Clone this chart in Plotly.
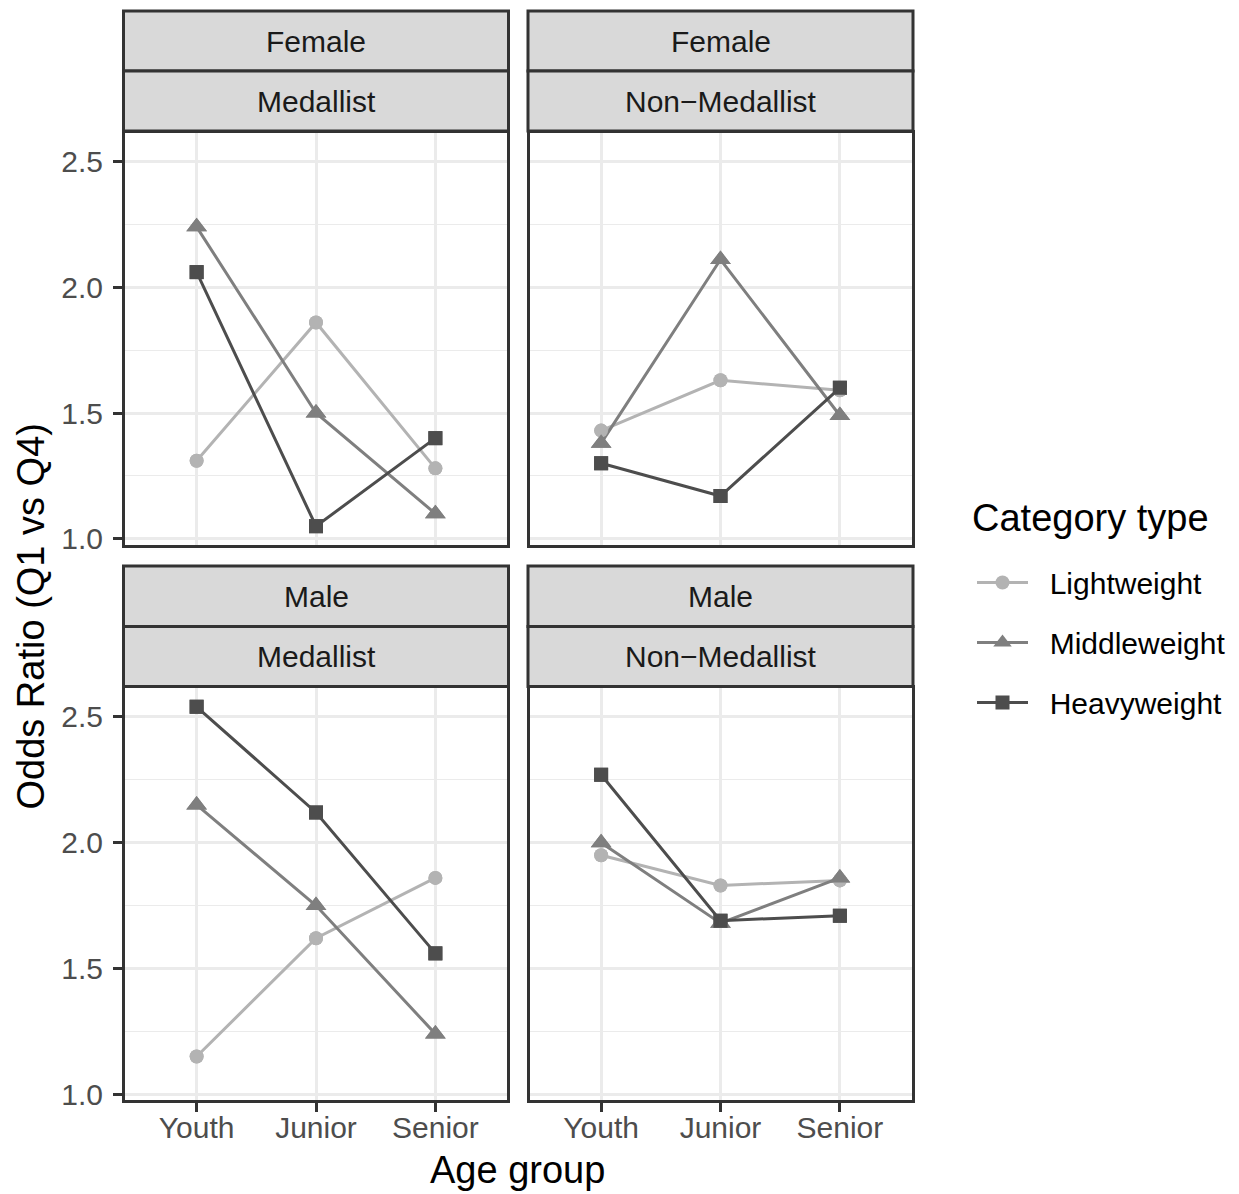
import plotly.graph_objects as go

# ---------------- data ----------------
age_groups = ["Youth", "Junior", "Senior"]
categories = ["Lightweight", "Middleweight", "Heavyweight"]
cat_colors = ["#B3B3B3", "#7F7F7F", "#4D4D4D"]
cat_symbols = ["circle", "triangle-up", "square"]
cat_sizes = [14, 18, 14]

sex_labels = ["Female", "Female", "Male", "Male"]
status_labels = ["Medallist", "Non\u2212Medallist", "Medallist", "Non\u2212Medallist"]

female_medallist_light = [1.31, 1.86, 1.28]
female_medallist_middle = [2.24, 1.50, 1.10]
female_medallist_heavy = [2.06, 1.05, 1.40]

female_nonmedallist_light = [1.43, 1.63, 1.59]
female_nonmedallist_middle = [1.38, 2.11, 1.49]
female_nonmedallist_heavy = [1.30, 1.17, 1.60]

male_medallist_light = [1.15, 1.62, 1.86]
male_medallist_middle = [2.15, 1.75, 1.24]
male_medallist_heavy = [2.54, 2.12, 1.56]

male_nonmedallist_light = [1.95, 1.83, 1.85]
male_nonmedallist_middle = [2.00, 1.68, 1.86]
male_nonmedallist_heavy = [2.27, 1.69, 1.71]

panels = [
    [female_medallist_light, female_medallist_middle, female_medallist_heavy],
    [female_nonmedallist_light, female_nonmedallist_middle, female_nonmedallist_heavy],
    [male_medallist_light, male_medallist_middle, male_medallist_heavy],
    [male_nonmedallist_light, male_nonmedallist_middle, male_nonmedallist_heavy],
]

y_ticks = [1.0, 1.5, 2.0, 2.5]

# ---------------- layout geometry (pixels of the target picture) ----------------
REF_W, REF_H = 1239, 1194
SY = 1.009  # vertical compensation for the capture
W, H = REF_W, round(REF_H * SY)


def fx(p):
    return p / REF_W


def fy(p):
    return 1 - p / REF_H


# panel border centre lines
col_edges = [(123.5, 508.5), (528.0, 913.0)]
row_edges = [(131.0, 546.0), (686.0, 1101.0)]
strip_rows = [[(11.0, 71.0), (71.0, 131.0)], [(565.5, 626.0), (626.0, 686.0)]]
LW = 3

all_vals = [v for p in panels for s in p for v in s]
lo, hi = min(all_vals), max(all_vals)
pad = 0.05 * (hi - lo)
y_range = [lo - pad, hi + pad]

GRID = "#EBEBEB"
BORDER = "#333333"
SMALL = 30
LARGE = 38
FONT = "Liberation Sans, Arial, Helvetica, sans-serif"
NB = "\u00a0\u00a0"

fig = go.Figure()

for i, pdata in enumerate(panels):
    n = i + 1
    xa = "x" if n == 1 else f"x{n}"
    ya = "y" if n == 1 else f"y{n}"
    # lines (with markers) first, then markers on top
    for k in range(3):
        fig.add_trace(go.Scatter(
            x=age_groups, y=pdata[k], xaxis=xa, yaxis=ya,
            mode="lines+markers", name=NB + categories[k],
            legendgroup=categories[k], showlegend=(i == 0),
            line=dict(color=cat_colors[k], width=3),
            marker=dict(symbol=cat_symbols[k], size=cat_sizes[k],
                        color=cat_colors[k], line=dict(width=0)),
        ))
    for k in range(3):
        fig.add_trace(go.Scatter(
            x=age_groups, y=pdata[k], xaxis=xa, yaxis=ya,
            mode="markers", name=categories[k],
            legendgroup=categories[k], showlegend=False,
            marker=dict(symbol=cat_symbols[k], size=cat_sizes[k],
                        color=cat_colors[k], line=dict(width=0)),
            hoverinfo="skip",
        ))

layout = dict(
    width=W, height=H,
    margin=dict(l=0, r=0, t=0, b=0),
    paper_bgcolor="white", plot_bgcolor="white",
    font=dict(family=FONT, size=SMALL, color="black"),
    showlegend=True,
    legend=dict(
        x=fx(972), xanchor="left", y=fy(556), yanchor="top",
        font=dict(size=SMALL, color="black"),
        tracegroupgap=18, itemwidth=51,
        bgcolor="rgba(0,0,0,0)", borderwidth=0,
    ),
)

shapes = []
annotations = []

for i in range(4):
    n = i + 1
    r, c = divmod(i, 2)
    x0, x1 = col_edges[c]
    y0, y1 = row_edges[r]
    xkey = "xaxis" if n == 1 else f"xaxis{n}"
    ykey = "yaxis" if n == 1 else f"yaxis{n}"
    yref = "y" if n == 1 else f"y{n}"
    xref = "x" if n == 1 else f"x{n}"
    layout[xkey] = dict(
        domain=[fx(x0 + LW / 2), fx(x1 - LW / 2)],
        anchor=yref,
        type="category",
        categoryorder="array", categoryarray=age_groups,
        range=[-0.6, 2.6],
        showgrid=True, gridcolor=GRID, gridwidth=2.5,
        zeroline=False,
        showline=True, linecolor=BORDER, linewidth=LW, mirror=True,
        ticks="outside" if r == 1 else "",
        ticklen=9, tickwidth=LW, tickcolor=BORDER,
        ticklabelstandoff=-10,
        showticklabels=(r == 1),
        tickfont=dict(size=SMALL, color="#4D4D4D"),
        fixedrange=True,
    )
    layout[ykey] = dict(
        domain=[fy(y1 - LW / 2), fy(y0 + LW / 2)],
        anchor=xref,
        range=y_range,
        tickmode="array", tickvals=y_ticks,
        ticktext=[f"{v:.1f}" for v in y_ticks],
        showgrid=True, gridcolor=GRID, gridwidth=2.5,
        minor=dict(dtick=0.25, tick0=0, showgrid=True, gridcolor=GRID,
                   gridwidth=1.3, ticks=""),
        zeroline=False,
        showline=True, linecolor=BORDER, linewidth=LW, mirror=True,
        ticks="outside" if c == 0 else "",
        ticklen=9, tickwidth=LW, tickcolor=BORDER,
        ticklabelstandoff=4,
        showticklabels=(c == 0),
        tickfont=dict(size=SMALL, color="#4D4D4D"),
        fixedrange=True,
    )
    # strips
    labels = [sex_labels[i], status_labels[i]]
    for (sy0, sy1), lab in zip(strip_rows[r], labels):
        shapes.append(dict(
            type="rect", xref="paper", yref="paper",
            x0=fx(x0), x1=fx(x1), y0=fy(sy1), y1=fy(sy0),
            fillcolor="#D9D9D9", line=dict(color=BORDER, width=LW),
            layer="above",
        ))
        annotations.append(dict(
            xref="paper", yref="paper",
            x=fx((x0 + x1) / 2), y=fy((sy0 + sy1) / 2),
            xanchor="center", yanchor="middle",
            text=lab, showarrow=False,
            font=dict(size=SMALL, color="#1A1A1A"),
        ))

# axis titles and legend title
annotations.append(dict(
    xref="paper", yref="paper", x=fx(517), y=fy(1169),
    xanchor="center", yanchor="middle", text="Age group", showarrow=False,
    font=dict(size=LARGE, color="black"),
))
annotations.append(dict(
    xref="paper", yref="paper", x=fx(31), y=fy(616),
    xanchor="center", yanchor="middle", text="Odds Ratio (Q1 vs Q4)",
    textangle=-90, showarrow=False,
    font=dict(size=LARGE, color="black"),
))
annotations.append(dict(
    xref="paper", yref="paper", x=fx(970), y=fy(518),
    xanchor="left", yanchor="middle", text="Category type", showarrow=False,
    font=dict(size=LARGE, color="black"),
))

layout["shapes"] = shapes
layout["annotations"] = annotations
fig.update_layout(**layout)

fig.write_html("out.html", config={"displayModeBar": False},
               post_script="document.body.style.margin='0px';")
